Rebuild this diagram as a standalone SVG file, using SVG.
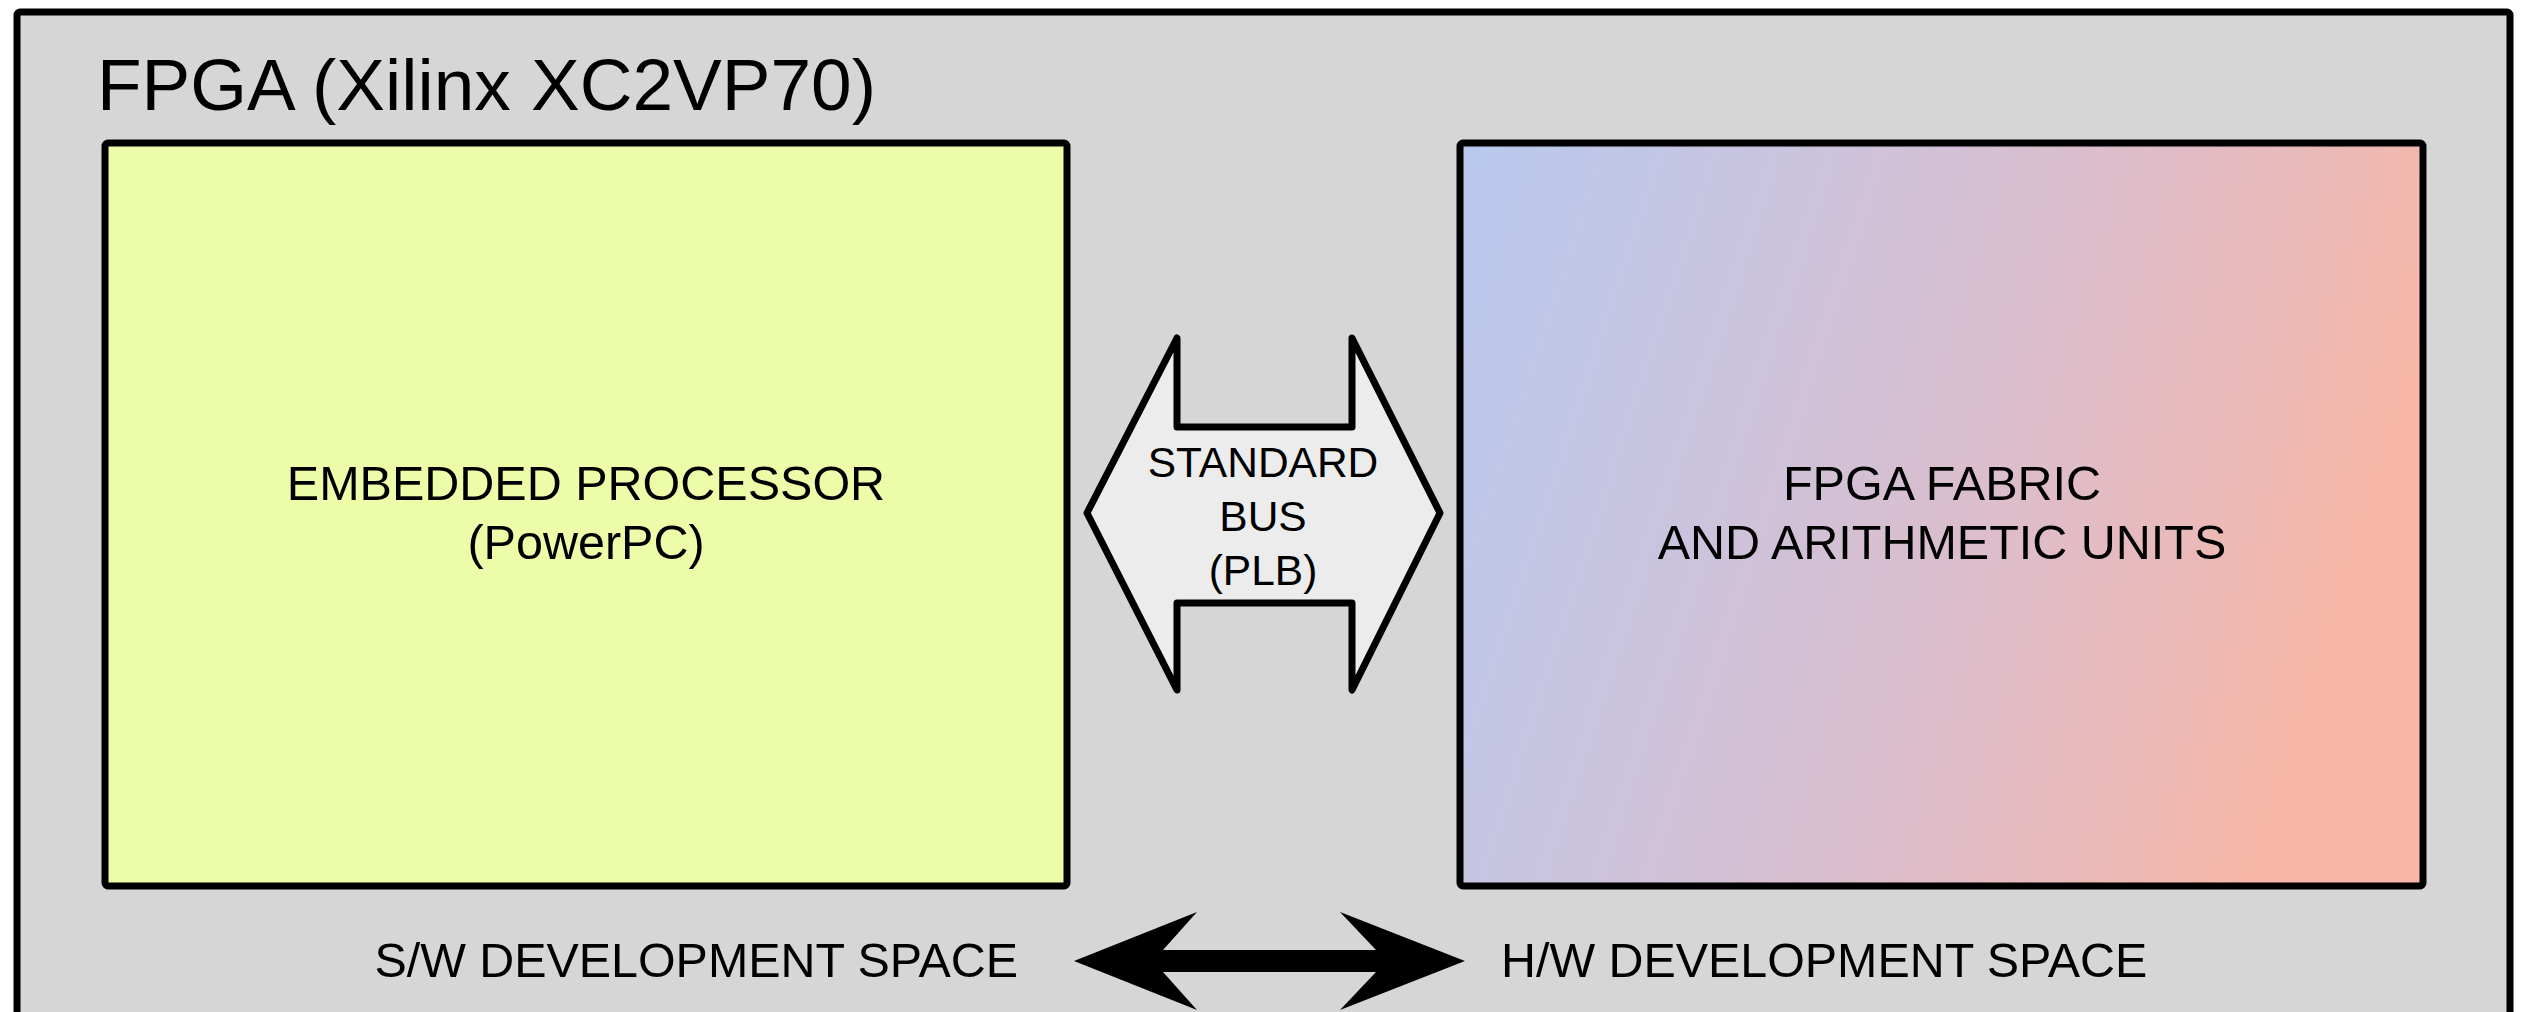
<svg xmlns="http://www.w3.org/2000/svg" width="2525" height="1012" viewBox="0 0 2525 1012">
<defs>
<linearGradient id="fab" x1="0" y1="0" x2="1" y2="0.25">
<stop offset="0" stop-color="#b8c9ee"/>
<stop offset="0.35" stop-color="#cbc3dd"/>
<stop offset="0.7" stop-color="#e0bcc7"/>
<stop offset="1" stop-color="#f6b7a8"/>
</linearGradient>
<style>
.box{stroke:#000;stroke-width:7;stroke-linejoin:round}
.t{font-family:"Liberation Sans",Arial,sans-serif;fill:#000}
.c{text-anchor:middle}
</style>
</defs>
<rect width="2525" height="1012" fill="#fff"/>
<g id="fpga">
<rect class="box" x="17" y="12" width="2493" height="1040" rx="3" fill="#d6d6d6"/>
<text class="t" x="97" y="110" font-size="73">FPGA (Xilinx XC2VP70)</text>
</g>
<g id="processor">
<rect class="box" x="105" y="143" width="962" height="743" rx="3" fill="#ecfca8"/>
<text class="t c" x="586" y="500" font-size="48.5">EMBEDDED PROCESSOR</text>
<text class="t c" x="586" y="559" font-size="48.5">(PowerPC)</text>
</g>
<g id="fabric">
<rect class="box" x="1460" y="143" width="963" height="743" rx="3" fill="url(#fab)"/>
<text class="t c" x="1942" y="500" font-size="48.5">FPGA FABRIC</text>
<text class="t c" x="1942" y="559" font-size="48.5">AND ARITHMETIC UNITS</text>
</g>
<g id="connectors">
<g id="bus">
<polygon points="1087,513 1177,338 1177,427 1352,427 1352,338 1440,513 1352,690 1352,603 1177,603 1177,690" fill="#ececec" stroke="#000" stroke-width="7" stroke-linejoin="round"/>
<text class="t c" x="1263" y="477" font-size="42.5">STANDARD</text>
<text class="t c" x="1263" y="531" font-size="42.5">BUS</text>
<text class="t c" x="1263" y="585" font-size="42.5">(PLB)</text>
</g>
<polygon id="devarrow" points="1074,961 1197,912 1163,950 1376,950 1340,912 1465,961 1340,1010 1376,972 1163,972 1197,1010" fill="#000"/>
</g>
<g id="labels">
<text class="t" x="1018" y="977" font-size="48.4" text-anchor="end">S/W DEVELOPMENT SPACE</text>
<text class="t" x="1501" y="977" font-size="48.4">H/W DEVELOPMENT SPACE</text>
</g>
</svg>
